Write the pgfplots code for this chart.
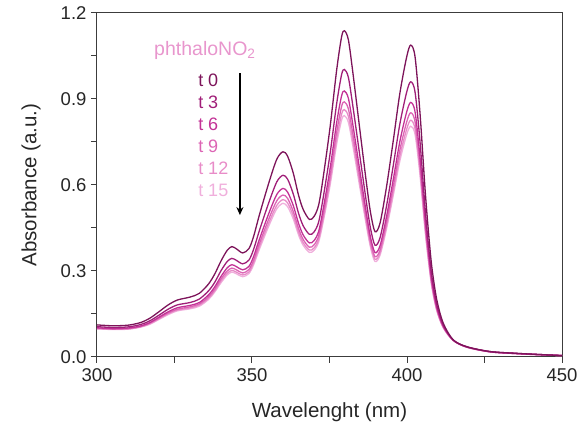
\documentclass[border=0pt]{standalone}
\usepackage{fontspec}
\setmainfont{Liberation Sans}
\usepackage{pgfplots}
\usepackage{pgfplotstable}
\pgfplotsset{compat=1.18}
\usetikzlibrary{arrows.meta}
\definecolor{c0}{RGB}{125,20,90}
\definecolor{c3}{RGB}{160,30,120}
\definecolor{c6}{RGB}{195,50,150}
\definecolor{c9}{RGB}{220,100,180}
\definecolor{c12}{RGB}{232,140,200}
\definecolor{c15}{RGB}{240,175,220}
\definecolor{ctitle}{RGB}{232,150,205}
\definecolor{axgray}{RGB}{60,60,60}
\pgfplotstableread{
wl t0 t3 t6 t9 t12 t15
300 0.112 0.106 0.102 0.100 0.099 0.098
305 0.109 0.103 0.099 0.098 0.097 0.096
310 0.111 0.105 0.101 0.099 0.098 0.097
314 0.120 0.113 0.108 0.106 0.105 0.104
317 0.135 0.126 0.120 0.118 0.116 0.114
320 0.158 0.146 0.139 0.136 0.133 0.131
323 0.182 0.167 0.158 0.154 0.151 0.148
326 0.199 0.182 0.172 0.167 0.164 0.161
330 0.209 0.190 0.180 0.175 0.171 0.168
333 0.222 0.202 0.190 0.185 0.181 0.177
336 0.255 0.231 0.217 0.210 0.205 0.201
338 0.290 0.261 0.245 0.237 0.231 0.227
340 0.335 0.301 0.281 0.272 0.265 0.259
342 0.372 0.333 0.311 0.300 0.292 0.286
343.5 0.385 0.344 0.322 0.310 0.302 0.296
345 0.377 0.337 0.315 0.304 0.296 0.290
347 0.363 0.325 0.304 0.293 0.286 0.280
349 0.378 0.338 0.316 0.305 0.297 0.291
350.5 0.420 0.375 0.350 0.337 0.328 0.321
352.5 0.500 0.445 0.414 0.399 0.388 0.379
355.5 0.610 0.541 0.503 0.484 0.470 0.459
358 0.690 0.611 0.567 0.545 0.529 0.517
360 0.716 0.634 0.588 0.565 0.549 0.536
361.5 0.700 0.620 0.575 0.553 0.537 0.524
363.3 0.642 0.569 0.529 0.508 0.494 0.482
365 0.565 0.502 0.467 0.449 0.436 0.426
366.5 0.515 0.458 0.426 0.410 0.399 0.390
368.5 0.480 0.428 0.398 0.383 0.373 0.365
370 0.490 0.436 0.406 0.391 0.380 0.372
371.5 0.530 0.471 0.438 0.422 0.410 0.401
373 0.629 0.558 0.518 0.498 0.484 0.473
375.2 0.803 0.710 0.658 0.632 0.614 0.599
377.3 1.000 0.883 0.817 0.784 0.760 0.742
378.9 1.117 0.985 0.911 0.874 0.847 0.826
379.8 1.138 1.003 0.928 0.890 0.863 0.842
381.1 1.106 0.975 0.902 0.865 0.839 0.818
382.7 0.978 0.863 0.799 0.767 0.744 0.726
384.8 0.792 0.701 0.649 0.624 0.605 0.591
387 0.600 0.533 0.495 0.476 0.462 0.452
388.3 0.500 0.445 0.414 0.399 0.388 0.379
389.7 0.437 0.390 0.364 0.350 0.341 0.333
391.3 0.467 0.416 0.388 0.373 0.363 0.355
393.4 0.594 0.527 0.490 0.471 0.458 0.447
395.6 0.757 0.670 0.621 0.597 0.579 0.565
397.7 0.920 0.813 0.752 0.722 0.701 0.684
399.9 1.047 0.924 0.855 0.820 0.795 0.776
401.2 1.088 0.960 0.888 0.852 0.826 0.805
402.6 1.047 0.924 0.855 0.820 0.795 0.776
404.2 0.850 0.751 0.696 0.668 0.649 0.633
405.8 0.590 0.524 0.487 0.468 0.455 0.444
406.9 0.440 0.393 0.366 0.353 0.343 0.336
408 0.315 0.283 0.265 0.256 0.250 0.245
409.6 0.200 0.183 0.173 0.168 0.164 0.162
411.7 0.118 0.111 0.107 0.105 0.103 0.102
414.9 0.060 0.059 0.059 0.058 0.058 0.058
419.3 0.036 0.035 0.035 0.035 0.034 0.034
426.8 0.019 0.019 0.018 0.018 0.018 0.018
435 0.013 0.013 0.012 0.012 0.012 0.012
442 0.009 0.009 0.009 0.008 0.008 0.008
450 0.005 0.005 0.005 0.005 0.005 0.005
}\spectra
\begin{document}
\begin{tikzpicture}
\begin{axis}[
  scale only axis,
  width=465pt, height=344pt,
  xmin=300, xmax=450, ymin=0, ymax=1.2,
  xtick={300,350,400,450},
  ytick={0,0.3,0.6,0.9,1.2},
  minor xtick={325,375,425},
  minor ytick={0.15,0.45,0.75,1.05},
  tick align=outside,
  tick pos=left,
  major tick length=6pt,
  minor tick length=6pt,
  axis line style={axgray, line width=1pt},
  every tick/.style={axgray, line width=1pt},
  minor tick style={axgray, line width=1pt},
  yticklabel style={/pgf/number format/fixed, /pgf/number format/fixed zerofill, /pgf/number format/precision=1},
  /pgf/number format/assume math mode=true,
  ticklabel style={font=\fontsize{18.5}{22}\selectfont, text=black!85},
  xticklabel style={yshift=-2pt},
  yticklabel style={xshift=-1pt},
  xlabel={Wavelenght (nm)},
  ylabel={Absorbance (a.u.)},
  label style={font=\fontsize{20.5}{24}\selectfont, text=black!85},
  xlabel style={at={(axis description cs:0.5,-0.160)}, anchor=center},
  ylabel style={at={(axis description cs:-0.142,0.5)}, anchor=center},
  clip=true,
]
\addplot[c15, line width=1.3pt, smooth, tension=0.5] table[x=wl, y=t15] {\spectra};
\addplot[c12, line width=1.3pt, smooth, tension=0.5] table[x=wl, y=t12] {\spectra};
\addplot[c9, line width=1.3pt, smooth, tension=0.5] table[x=wl, y=t9] {\spectra};
\addplot[c6, line width=1.3pt, smooth, tension=0.5] table[x=wl, y=t6] {\spectra};
\addplot[c3, line width=1.3pt, smooth, tension=0.5] table[x=wl, y=t3] {\spectra};
\addplot[c0, line width=1.3pt, smooth, tension=0.5] table[x=wl, y=t0] {\spectra};
\node[text=ctitle, font=\fontsize{19.5}{23}\selectfont] at (axis cs:334.8,1.068) {phthaloNO\textsubscript{2}};
\node[text=c0, anchor=west, font=\fontsize{18}{21}\selectfont, inner sep=0pt] at (axis cs:332.6,0.964) {t 0};
\node[text=c3, anchor=west, font=\fontsize{18}{21}\selectfont, inner sep=0pt] at (axis cs:332.6,0.888) {t 3};
\node[text=c6, anchor=west, font=\fontsize{18}{21}\selectfont, inner sep=0pt] at (axis cs:332.6,0.811) {t 6};
\node[text=c9, anchor=west, font=\fontsize{18}{21}\selectfont, inner sep=0pt] at (axis cs:332.6,0.734) {t 9};
\node[text=c12, anchor=west, font=\fontsize{18}{21}\selectfont, inner sep=0pt] at (axis cs:332.6,0.658) {t 12};
\node[text=c15, anchor=west, font=\fontsize{18}{21}\selectfont, inner sep=0pt] at (axis cs:332.6,0.581) {t 15};
\draw[black, line width=1.3pt, -{Stealth[length=8pt, width=7pt]}] (axis cs:346.1,0.99) -- (axis cs:346.1,0.495);
\end{axis}
\pgfresetboundingbox
\path (current axis.south west) ++(-97pt,-74pt) rectangle ++(579pt,431pt);
\end{tikzpicture}
\end{document}
